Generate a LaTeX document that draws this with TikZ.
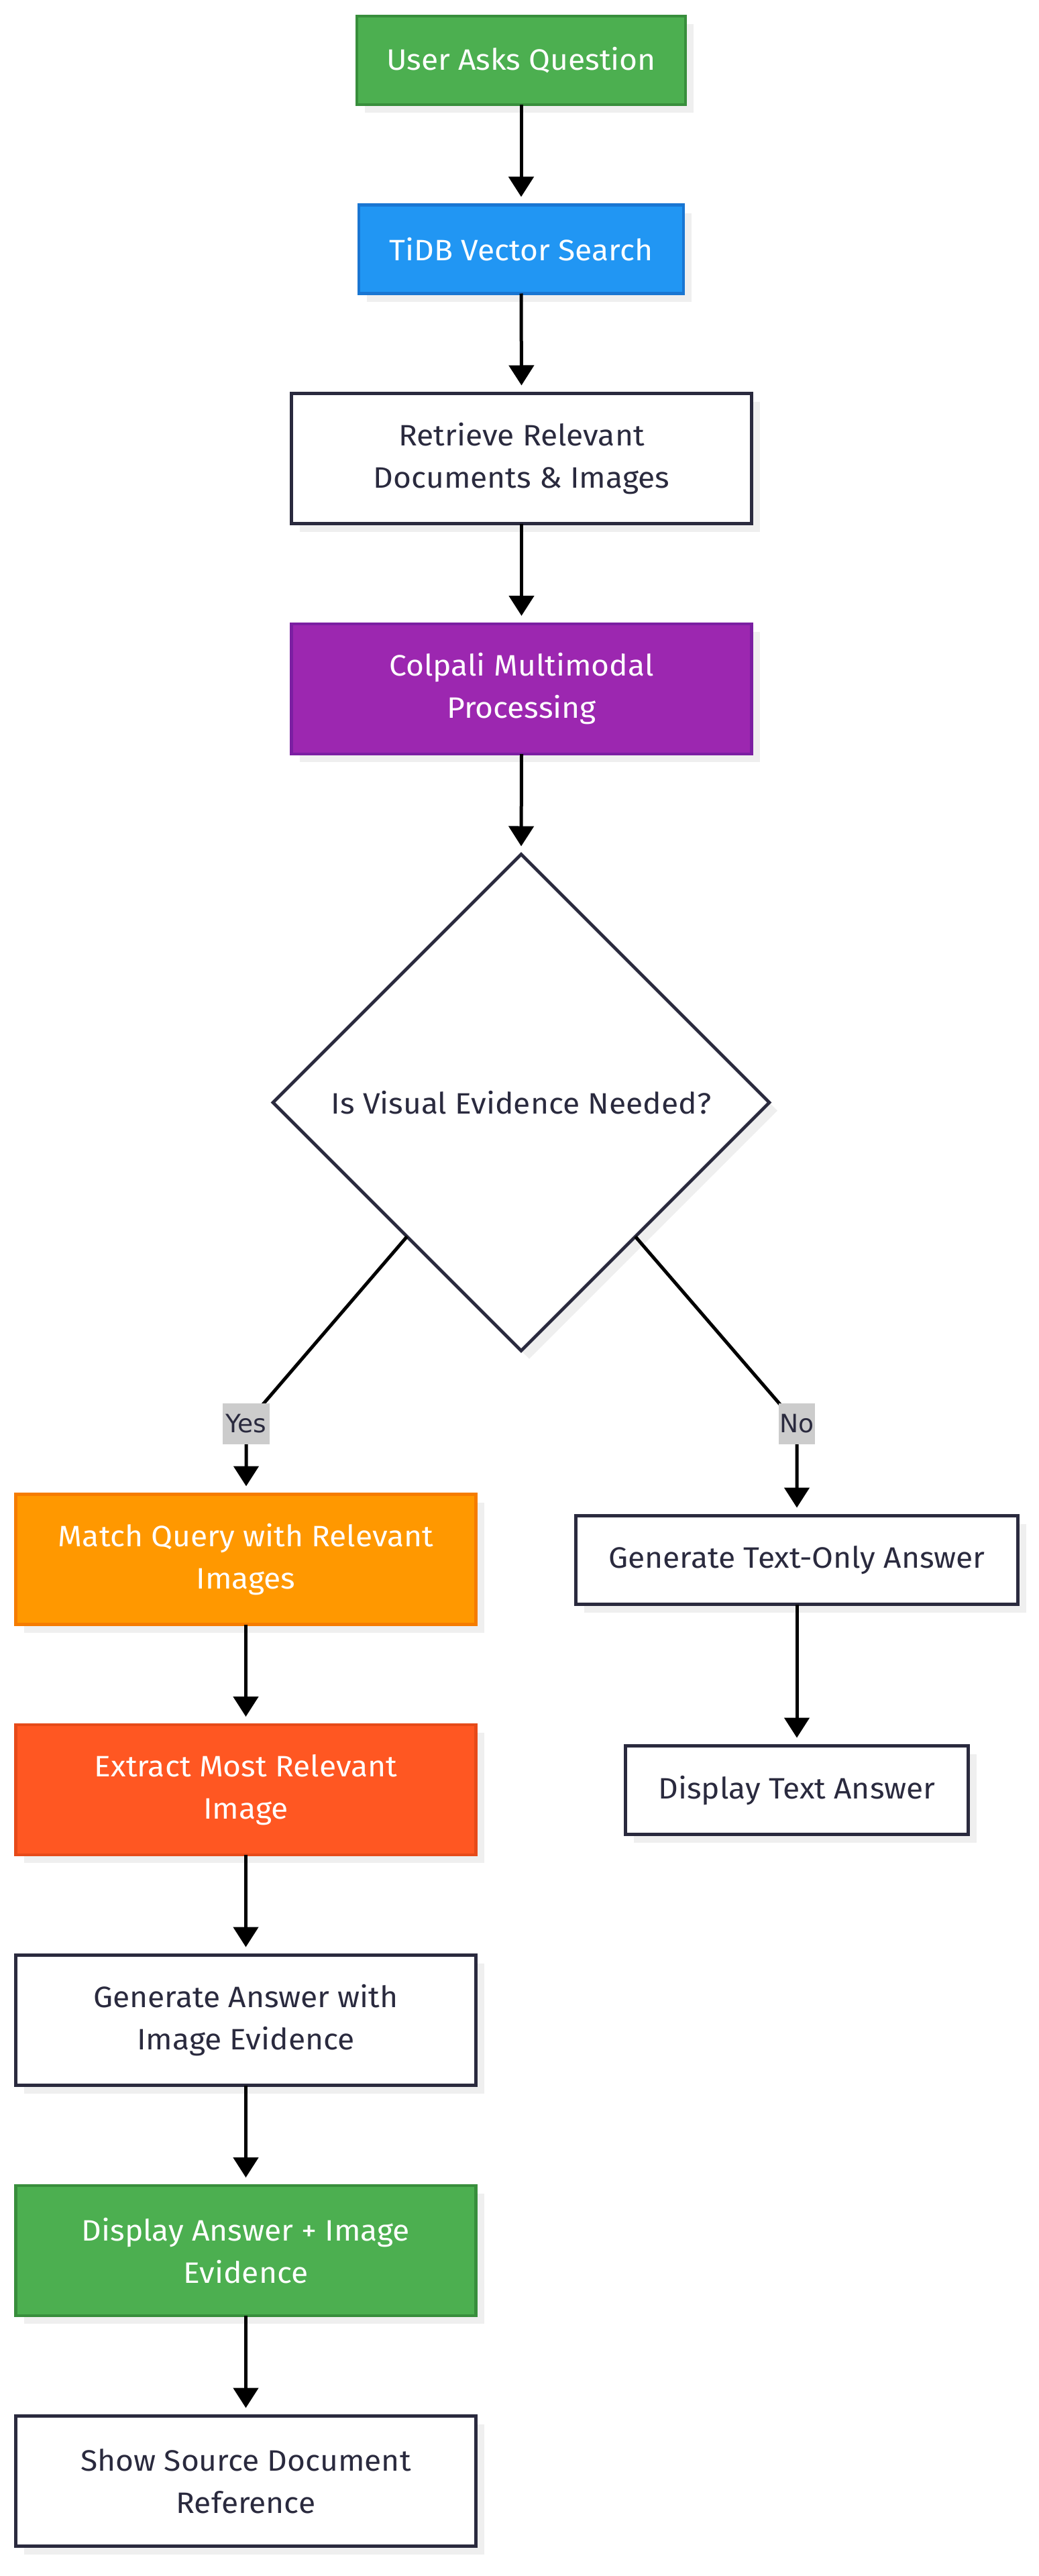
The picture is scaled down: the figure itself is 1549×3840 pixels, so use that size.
\documentclass[tikz,border=0pt]{standalone}
\usepackage{fontspec}
\setmainfont{Fira Sans}[FakeStretch=1.05]
\newfontfamily\lblfont{DejaVu Sans}
\usetikzlibrary{shapes.geometric,arrows.meta,shadows,calc}
\definecolor{shadowgray}{RGB}{239,239,239}
\definecolor{inkdark}{RGB}{42,42,62}
\definecolor{lblgray}{RGB}{204,204,204}
\definecolor{greenfill}{RGB}{76,175,80}
\definecolor{greenline}{RGB}{56,142,60}
\definecolor{bluefill}{RGB}{33,150,243}
\definecolor{blueline}{RGB}{25,118,210}
\definecolor{purplefill}{RGB}{156,39,176}
\definecolor{purpleline}{RGB}{123,31,162}
\definecolor{orangefill}{RGB}{255,152,0}
\definecolor{orangeline}{RGB}{245,124,0}
\definecolor{redfill}{RGB}{255,87,34}
\definecolor{redline}{RGB}{230,74,25}
\begin{document}
\begin{tikzpicture}[x=1pt,y=-1pt,
  box/.style={rectangle, draw=inkdark, fill=white, text=inkdark, line width=4.8pt,
    inner sep=0pt, outer sep=0pt, align=center,
    font=\fontsize{44}{63}\selectfont,
    general shadow={fill=shadowgray, shadow xshift=12pt, shadow yshift=-12pt}},
  greenbox/.style={box, draw=greenline, fill=greenfill, text=white},
  bluebox/.style={box, draw=blueline, fill=bluefill, text=white},
  purplebox/.style={box, draw=purpleline, fill=purplefill, text=white},
  orangebox/.style={box, draw=orangeline, fill=orangefill, text=white},
  redbox/.style={box, draw=redline, fill=redfill, text=white},
  wide/.style={minimum width=686pt},
  one/.style={minimum height=132pt},
  two/.style={minimum height=194pt},
  decision/.style={diamond, draw=inkdark, fill=white, text=inkdark, line width=4.8pt,
    inner sep=0pt, outer sep=0pt, minimum width=740pt, minimum height=740pt,
    font=\fontsize{44}{63}\selectfont,
    general shadow={fill=shadowgray, shadow xshift=12pt, shadow yshift=-12pt}},
  lbl/.style={fill=lblgray, text=inkdark, inner xsep=1pt, inner ysep=0pt,
    minimum height=61pt, font=\lblfont\fontsize{37.6}{45}\selectfont},
  flow/.style={line width=5pt, draw=black, -{Triangle[width=37pt,length=30pt]}, shorten >=12pt}
]
\useasboundingbox (0,0) rectangle (1549,3840);

\node[greenbox, one, minimum width=490pt] (ask) at (777,90) {User Asks Question};
\node[bluebox, one, minimum width=484pt] (tidb) at (777,371.5) {TiDB Vector Search};
\node[box, two, wide] (retr) at (777.5,683.5) {Retrieve Relevant\\Documents \& Images};
\node[purplebox, two, wide] (colp) at (777.5,1027) {Colpali Multimodal\\Processing};
\node[decision] (dia) at (777,1643.5) {Is Visual Evidence Needed?};

\node[orangebox, two, wide] (match) at (366.5,2324.5) {Match Query with Relevant\\Images};
\node[redbox, two, wide] (extr) at (366.5,2668) {Extract Most Relevant\\Image};
\node[box, two, wide] (gena) at (366.5,3011.5) {Generate Answer with\\Image Evidence};
\node[greenbox, two, wide] (disa) at (366.5,3355) {Display Answer + Image\\Evidence};
\node[box, two, wide] (show) at (366.5,3698.5) {Show Source Document\\Reference};

\node[box, one, minimum width=659pt] (gent) at (1188,2325.5) {Generate Text-Only Answer};
\node[box, one, minimum width=511pt] (dist) at (1188,2668.5) {Display Text Answer};

\coordinate (yesstart) at ($(dia.west)!0.54!(dia.south)$);
\coordinate (nostart) at ($(dia.east)!0.54!(dia.south)$);
\coordinate (yesbend) at (367,2122.5);
\coordinate (nobend) at (1188,2122.5);

\draw[flow] (ask.south) -- (tidb.north);
\draw[flow] (tidb.south) -- (retr.north);
\draw[flow] (retr.south) -- (colp.north);
\draw[flow] (colp.south) -- (dia.north);
\draw[flow] (yesstart) -- (yesbend) -- (yesbend |- match.north);
\draw[flow] (nostart) -- (nobend) -- (nobend |- gent.north);
\draw[flow] (match.south) -- (extr.north);
\draw[flow] (extr.south) -- (gena.north);
\draw[flow] (gena.south) -- (disa.north);
\draw[flow] (disa.south) -- (show.north);
\draw[flow] (gent.south) -- (dist.north);

\node[lbl, minimum width=70pt] (yes) at (yesbend) {Yes};
\node[lbl, minimum width=52pt] (no) at (nobend) {No};
\end{tikzpicture}
\end{document}
